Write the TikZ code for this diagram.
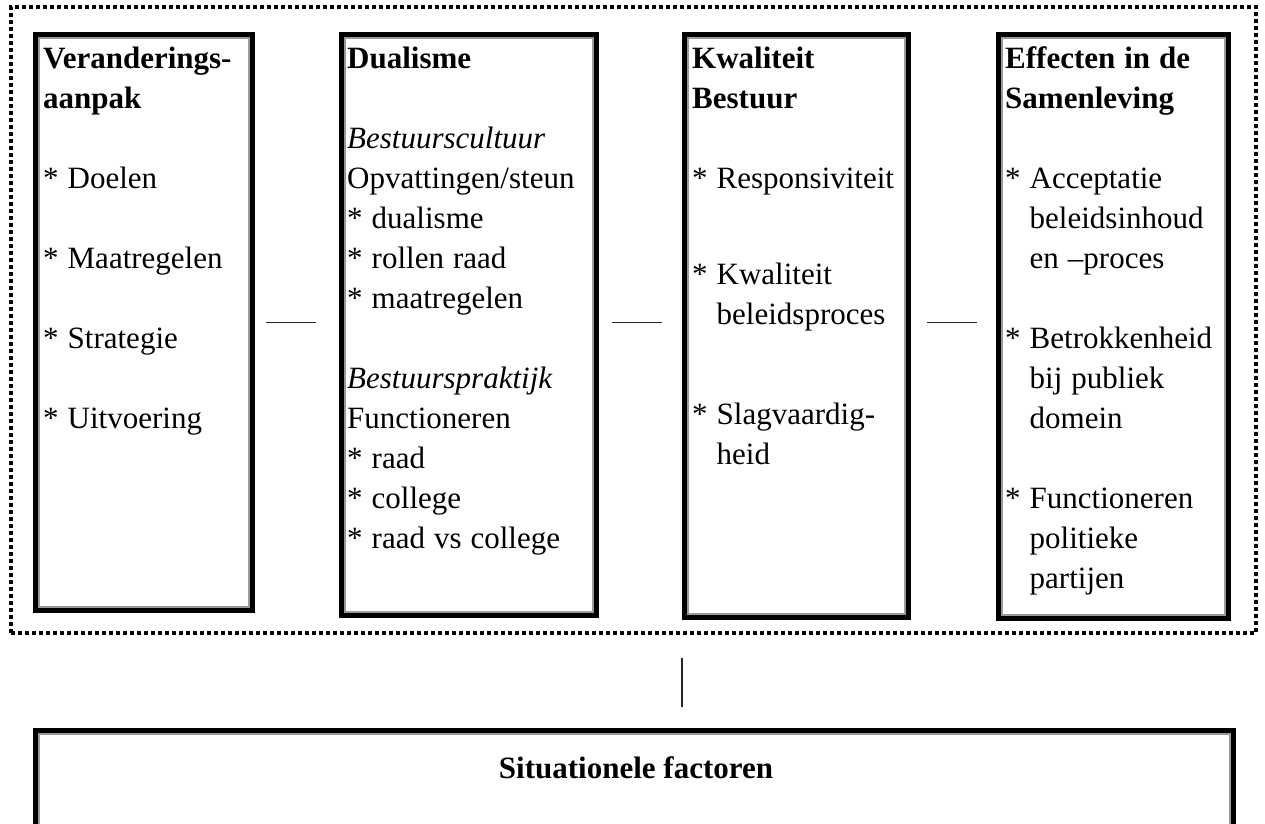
\documentclass[tikz,border=0pt]{standalone}
\usepackage{fontspec}
\setmainfont{Liberation Serif}
\newcommand{\inspring}{\hphantom{* }}

\begin{document}
\begin{tikzpicture}[
    x=1pt, y=-1pt,
    kader/.style={rectangle, draw=black, line width=5pt, inner sep=0pt},
    binnenlijn/.style={draw=black!40, line width=1.2pt},
    groep/.style={rectangle, draw=black, line width=3.5pt, dash pattern=on 4pt off 3pt, inner sep=0pt},
    tekst/.style={anchor=base west, inner sep=0pt, align=left, text width=240pt,
        font=\fontsize{31}{40}\selectfont, execute at begin node={\spaceskip=9pt\relax}},
    verbinding/.style={draw=black!85, line width=1.3pt}
]
    \useasboundingbox (0,0) rectangle (1265,823);
    \clip (0,0) rectangle (1265,823);

    % Dotted frame
    \node[groep, minimum width=1245pt, minimum height=626pt] (cluster) at (633.5,320) {};

    % Boxes
    \node[kader, minimum width=217pt, minimum height=576pt] (k1) at (144,322.5) {};
    \node[kader, minimum width=255pt, minimum height=581pt] (k2) at (469,325) {};
    \node[kader, minimum width=224pt, minimum height=583pt] (k3) at (796.5,326) {};
    \node[kader, minimum width=230pt, minimum height=584pt] (k4) at (1113.5,326.5) {};
    \node[kader, minimum width=1198pt, minimum height=167pt] (sit) at (634.5,814) {};
    \foreach \k in {k1,k2,k3,k4,sit}
        \draw[binnenlijn] ([shift={(6,6)}]\k.north west) rectangle ([shift={(-6,-6)}]\k.south east);

    % Box texts
    \node[tekst] (t1) at (43,68) {\textbf{Veranderings-}\\ \textbf{aanpak}\\[40pt]
        * Doelen\\[40pt] * Maatregelen\\[40pt] * Strategie\\[40pt] * Uitvoering};
    \node[tekst] (t2) at (347,68) {\textbf{Dualisme}\\[40pt]
        \textit{Bestuurscultuur}\\ Opvattingen/steun\\ {*} dualisme\\ {*} rollen raad\\ {*} maatregelen\\[40pt]
        \textit{Bestuurspraktijk}\\ Functioneren\\ {*} raad\\ {*} college\\ {*} raad vs college};
    \node[tekst] (t3) at (692,68) {\textbf{Kwaliteit}\\ \textbf{Bestuur}\\[40pt]
        * Responsiviteit\\[56pt] * Kwaliteit\\ \inspring beleidsproces\\[60pt]
        * Slagvaardig-\\ \inspring heid};
    \node[tekst] (t4) at (1005,68) {\textbf{Effecten in de}\\ \textbf{Samenleving}\\[40pt]
        * Acceptatie\\ \inspring beleidsinhoud\\ \inspring en --proces\\[40pt]
        * Betrokkenheid\\ \inspring bij publiek\\ \inspring domein\\[40pt]
        * Functioneren\\ \inspring politieke\\ \inspring partijen};
    \node[anchor=base, inner sep=0pt, font=\fontsize{31}{40}\selectfont\bfseries] (st) at (636,778) {Situationele factoren};

    % Connections
    \draw[verbinding, shorten <=11pt, shorten >=23pt] (k1.east) -- (k1.east -| k2.west);
    \draw[verbinding, shorten <=13pt, shorten >=20pt] (k1.east -| k2.east) -- (k1.east -| k3.west);
    \draw[verbinding, shorten <=16pt, shorten >=19pt] (k1.east -| k3.east) -- (k1.east -| k4.west);
    \draw[verbinding, shorten <=23pt, shorten >=21pt] (k3.west |- cluster.south) -- (k3.west |- sit.north);
\end{tikzpicture}
\end{document}
